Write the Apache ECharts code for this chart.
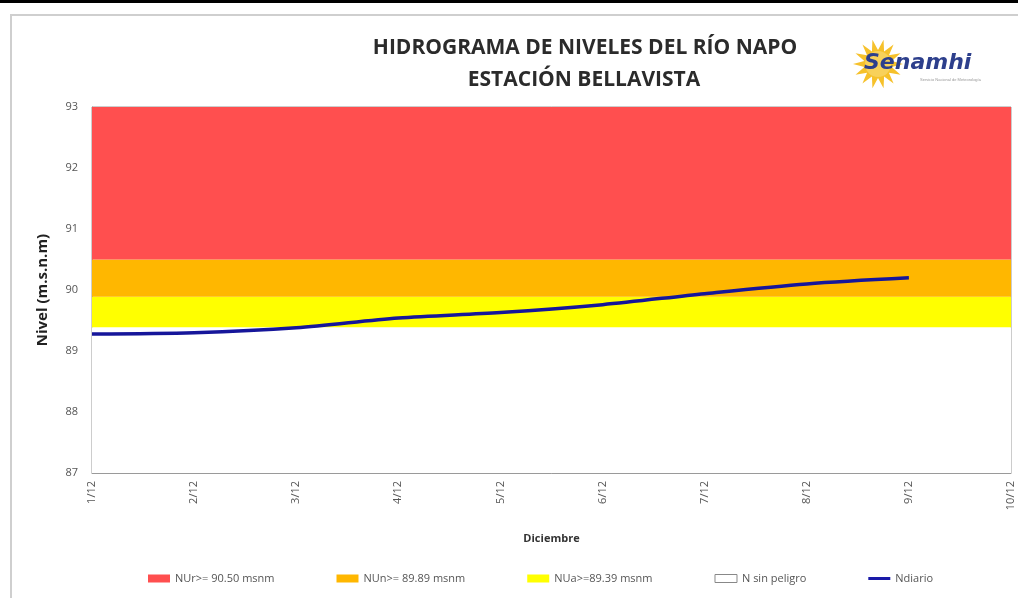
<!DOCTYPE html>
<html>
<head>
<meta charset="utf-8">
<script src="https://cdn.jsdelivr.net/npm/echarts@6/dist/echarts.min.js"></script>
<style>
html,body{margin:0;padding:0;background:#fff;}
#chart{width:1018px;height:598px;}
</style>
</head>
<body>
<div id="chart"></div>
<script>
// ---- data ----
var categories = ['1/12','2/12','3/12','4/12','5/12','6/12','7/12','8/12','9/12','10/12'];
var nivelDiario = [89.28, 89.30, 89.38, 89.54, 89.63, 89.76, 89.94, 90.10, 90.20, null];
var umbralAmarillo = 89.39;
var umbralNaranja = 89.89;
var umbralRojo = 90.50;
var yMin = 87, yMax = 93, yStep = 1;
var seriesNames = ['NUr>= 90.50 msnm', 'NUn>= 89.89 msnm', 'NUa>=89.39 msnm', 'N sin peligro', 'Ndiario'];
var titleLines = ['HIDROGRAMA DE NIVELES DEL RÍO NAPO', 'ESTACIÓN BELLAVISTA'];

function fill(v){ return categories.map(function(){ return v; }); }

var chart = echarts.init(document.getElementById('chart'));
var bandBase = {type:'line', stack:'bands', symbol:'none', silent:true, lineStyle:{width:0}, z:1};

// sun polygon for logo
function sunPoints(cx, cy, r1, r2, n){
  var pts=[];
  for(var i=0;i<n*2;i++){
    var r = i%2===0 ? r1 : r2;
    var a = Math.PI*i/n;
    pts.push([cx + r*Math.cos(a), cy + r*Math.sin(a)]);
  }
  return pts;
}
var narrow = 'Liberation Sans Narrow, Open Sans';

chart.setOption({
  animation:false,
  backgroundColor:'#fff',
  textStyle:{fontFamily:'Open Sans'},
  grid:{left:92, right:7, top:107, bottom:125, show:true, borderColor:'#9a9a9a', borderWidth:1, backgroundColor:'transparent'},
  graphic:[
    {type:'rect', shape:{x:0,y:0,width:1018,height:3}, style:{fill:'#000'}, z:100},
    {type:'rect', shape:{x:11,y:15,width:1030,height:620}, style:{fill:'none', stroke:'#cfcfcf', lineWidth:2}, z:100},
    {type:'text', style:{text:titleLines[0], x:585, y:48, align:'center', verticalAlign:'middle', font:'bold 21px "Open Sans"', fill:'#2b2b2b'}, z:100},
    {type:'text', style:{text:titleLines[1], x:584, y:80, align:'center', verticalAlign:'middle', font:'bold 21px "Open Sans"', fill:'#2b2b2b'}, z:100},
    {type:'polygon', shape:{points:sunPoints(878,64,25,14,14)}, style:{fill:'#f6c12b'}, z:100},
    {type:'circle', shape:{cx:878,cy:64,r:13}, style:{fill:'#f8d15a'}, z:100},
    {type:'text', style:{text:'Senamhi', x:864, y:63, verticalAlign:'middle', font:'italic bold 22px "DejaVu Sans"', fill:'#2d3f8c'}, z:101},
    {type:'text', style:{text:'Servicio Nacional de Meteorología', x:920, y:80, verticalAlign:'middle', font:'4px sans-serif', fill:'#999'}, z:101}
  ],
  legend:{
    bottom:9, left:143,
    itemWidth:22, itemHeight:8, itemGap:62,
    textStyle:{fontSize:11, color:'#555', fontFamily:narrow},
    data:[
      {name:seriesNames[0], icon:'rect', itemStyle:{color:'#ff4f4f'}},
      {name:seriesNames[1], icon:'rect', itemStyle:{color:'#ffb700'}},
      {name:seriesNames[2], icon:'rect', itemStyle:{color:'#ffff00'}},
      {name:seriesNames[3], icon:'rect', itemStyle:{color:'#ffffff', borderColor:'#888', borderWidth:1}},
      {name:seriesNames[4], icon:'path://M0,0 L22,0 L22,3 L0,3 Z', itemStyle:{color:'#1a1aa8'}}
    ]
  },
  xAxis:{
    type:'category', data:categories, boundaryGap:false,
    name:'Diciembre', nameLocation:'middle', nameGap:60,
    nameTextStyle:{fontSize:11, fontWeight:'bold', color:'#333', fontFamily:narrow},
    axisLine:{show:true, lineStyle:{color:'#9a9a9a'}},
    axisTick:{show:false},
    axisLabel:{rotate:90, fontSize:11, color:'#555', margin:8, interval:0, fontFamily:narrow},
    splitLine:{show:false}
  },
  yAxis:{
    type:'value', min:yMin, max:yMax, interval:yStep,
    name:'Nivel (m.s.n.m)', nameLocation:'middle', nameGap:42,
    nameTextStyle:{fontSize:15, fontWeight:'bold', color:'#222'},
    axisLine:{show:true, lineStyle:{color:'#9a9a9a'}},
    axisTick:{show:false},
    axisLabel:{fontSize:11, color:'#555', margin:14, fontFamily:narrow},
    splitLine:{show:false}
  },
  series:[
    Object.assign({}, bandBase, {name:seriesNames[3], data:fill(umbralAmarillo), itemStyle:{color:'#ffffff'}, areaStyle:{color:'#ffffff', opacity:1, origin:'start'}}),
    Object.assign({}, bandBase, {name:seriesNames[2], data:fill(umbralNaranja-umbralAmarillo), itemStyle:{color:'#ffff00'}, areaStyle:{color:'#ffff00', opacity:1}}),
    Object.assign({}, bandBase, {name:seriesNames[1], data:fill(umbralRojo-umbralNaranja), itemStyle:{color:'#ffb700'}, areaStyle:{color:'#ffb700', opacity:1}}),
    Object.assign({}, bandBase, {name:seriesNames[0], data:fill(yMax-umbralRojo), itemStyle:{color:'#ff4f4f'}, areaStyle:{color:'#ff4f4f', opacity:1}}),
    {name:seriesNames[4], type:'line', data:nivelDiario, symbol:'none', smooth:0.3, z:5,
     itemStyle:{color:'#1a1aa8'}, lineStyle:{color:'#16169a', width:3.5}}
  ]
});
</script>
</body>
</html>
